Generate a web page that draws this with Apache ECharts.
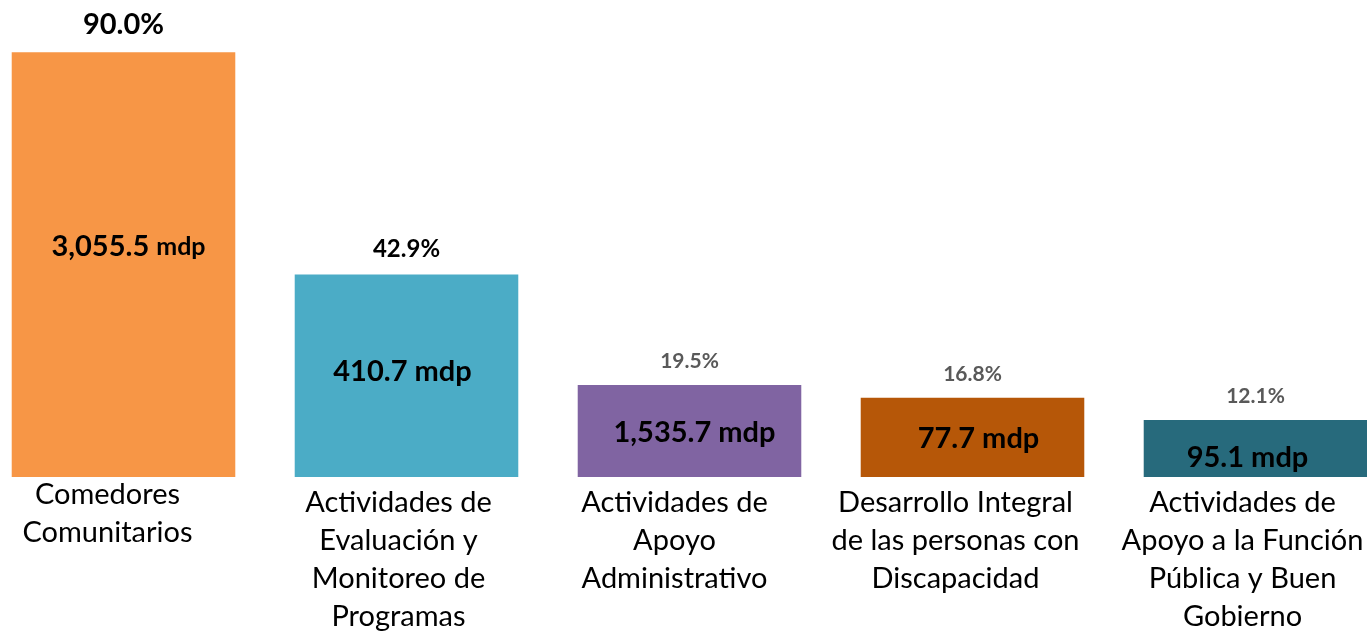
<!DOCTYPE html>
<html>
<head>
<meta charset="utf-8">
<script src="https://cdn.jsdelivr.net/npm/echarts@6/dist/echarts.min.js"></script>
<style>
  html, body { margin: 0; padding: 0; background: #fff; }
  #chart { width: 1367px; height: 631px; }
</style>
</head>
<body>
<div id="chart"></div>
<script>
const categories = [
  'Comedores\nComunitarios',
  'Actividades de\nEvaluación y\nMonitoreo de\nProgramas',
  'Actividades de\nApoyo\nAdministrativo',
  'Desarrollo Integral\nde las personas con\nDiscapacidad',
  'Actividades de\nApoyo a la Función\nPública y Buen\nGobierno'
];
const percentages = [90.0, 42.9, 19.5, 16.8, 12.1];
const amounts = ['3,055.5', '410.7', '1,535.7', '77.7', '95.1'];

// estilos por barra (no son datos)
const colors = ['#F79646', '#4BACC6', '#8064A2', '#B65708', '#276A7C'];
const pctStyles = ['big', 'mid', 'small', 'small', 'small'];
const innerOffsets = [[5, -18], [-4, -4], [5, 2], [6, 1], [-8, 9]];
const catPadding = [[0, 32, 0, 0], [8, 16, 0, 0], [8, 30, 0, 0], [8, 34, 0, 0], [8, 26, 0, 0]];

const FONT = 'Lato, "Open Sans", sans-serif';

const chart = echarts.init(document.getElementById('chart'));
chart.setOption({
  animation: false,
  grid: { left: -18, width: 1415, top: 5, bottom: 154, outerBoundsMode: 'none', containLabel: false },
  xAxis: {
    type: 'category',
    data: categories.map((c, i) => ({ value: c, textStyle: { padding: catPadding[i] } })),
    axisLine: { show: false },
    axisTick: { show: false },
    axisLabel: {
      interval: 0,
      margin: -1,
      fontFamily: FONT,
      fontSize: 29,
      lineHeight: 38,
      color: '#000'
    }
  },
  yAxis: { type: 'value', min: 0, max: 100, show: false, splitLine: { show: false } },
  series: [
    {
      type: 'bar',
      barCategoryGap: '21%',
      data: percentages.map((v, i) => ({
        value: v,
        itemStyle: { color: colors[i] },
        label: { offset: innerOffsets[i] }
      })),
      label: {
        show: true,
        position: 'inside',
        fontFamily: FONT,
        fontWeight: 'bold',
        fontSize: 29,
        color: '#000',
        formatter: p => p.dataIndex === 0
          ? '{n|' + amounts[p.dataIndex] + '} {u|mdp}'
          : '{n|' + amounts[p.dataIndex] + ' mdp}',
        rich: {
          n: { fontFamily: FONT, fontWeight: 'bold', fontSize: 29, color: '#000' },
          u: { fontFamily: FONT, fontWeight: 'bold', fontSize: 25, color: '#000' }
        }
      },
      z: 2
    },
    {
      type: 'bar',
      barGap: '-100%',
      barCategoryGap: '21%',
      silent: true,
      itemStyle: { color: 'transparent' },
      data: percentages,
      label: {
        show: true,
        position: 'top',
        distance: 13,
        formatter: p => '{' + pctStyles[p.dataIndex] + '|' + p.value.toFixed(1) + '%}',
        rich: {
          big: { fontFamily: FONT, fontWeight: 'bold', fontSize: 29, color: '#000' },
          mid: { fontFamily: FONT, fontWeight: 'bold', fontSize: 24, color: '#000' },
          small: { fontFamily: FONT, fontWeight: 'bold', fontSize: 21, color: '#595959' }
        }
      },
      z: 1
    }
  ]
});
</script>
</body>
</html>
